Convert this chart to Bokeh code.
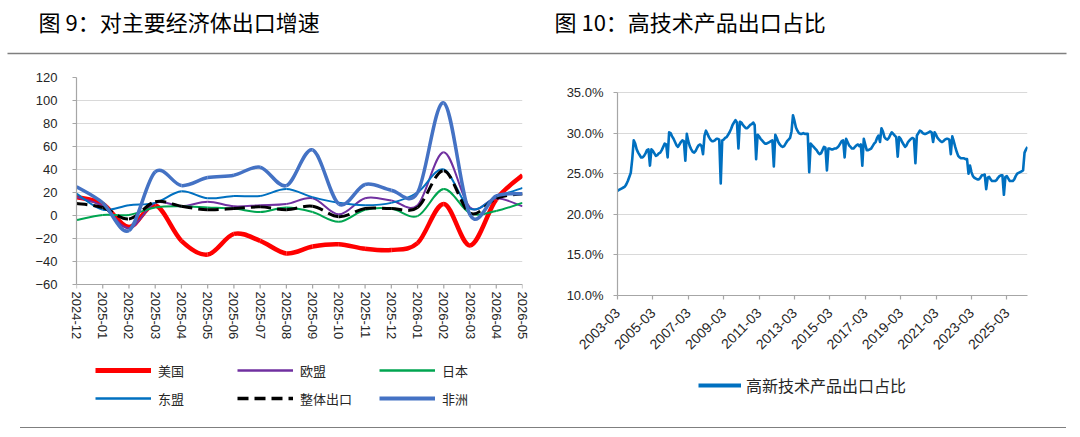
from bokeh.plotting import figure
from bokeh.models import Range1d, FixedTicker, ColumnDataSource, Legend, LegendItem, Div
from bokeh.layouts import column, row
from bokeh.core.properties import value
from bokeh.embed import file_html
from bokeh.resources import INLINE

# ---------------- Figure 9 data: export growth to major economies (%) ----------------
months9 = ["2024-12", "2025-01", "2025-02", "2025-03", "2025-04", "2025-05",
           "2025-06", "2025-07", "2025-08", "2025-09", "2025-10", "2025-11",
           "2025-12", "2026-01", "2026-02", "2026-03", "2026-04", "2026-05"]
usa    = [16, 10, -10, 9, -22, -34, -16, -22, -33, -27, -25, -29, -30, -24, 10, -26, 14, 35]
eu     = [16, 8, -11, 11, 8, 12, 8, 9, 10, 15, 1, 15, 13, 9, 55, 7, 15, 8]
japan  = [-4, 0.5, 0.5, 7, 8, 7, 6, 3, 7, 3, -5.5, 5, 6, -0.5, 23, 2, 4, 11]
asean  = [19, 5, 9, 11, 21, 15, 17, 17, 23, 16, 11, 9, 11, 20, 40, 6, 16, 24]
total  = [10.5, 7, -3, 12, 8, 5, 6, 7.5, 5, 8, -1, 6, 6, 7, 39, 2, 15, 19]
africa = [25, 11, -13, 38, 26, 33, 35, 42, 26, 57, 10, 27, 22, 20, 98, 0.5, 17, 19]
y_ticks9 = [-60, -40, -20, 0, 20, 40, 60, 80, 100, 120]

# ---------------- Figure 10 data: share of high-tech products in exports (%) ----------------
share_2003 = [22.9, 23.0, 23.1, 23.2, 23.3, 23.4, 23.7, 24.1, 24.6, 25.1]  # Mar-Dec
share_2004 = [26.8, 29.1, 28.7, 28.0, 27.6, 27.3, 27.0, 27.0, 27.2, 27.5, 27.9, 28.0]
share_2005 = [26.0, 28.0, 27.8, 27.5, 27.2, 27.3, 27.5, 27.6, 27.9, 28.3, 28.7, 28.6]
share_2006 = [27.0, 30.1, 30.0, 29.6, 29.3, 28.9, 28.5, 28.3, 28.6, 28.9, 29.1, 29.0]
share_2007 = [26.6, 29.9, 29.0, 28.4, 28.0, 27.7, 27.6, 27.8, 28.2, 28.5, 28.6, 28.4]
share_2008 = [27.4, 29.7, 30.3, 29.9, 29.5, 29.2, 29.0, 29.0, 29.1, 29.3, 29.3, 29.2]
share_2009 = [23.8, 29.1, 29.2, 29.4, 29.5, 29.8, 30.1, 30.5, 31.0, 31.3, 31.6, 31.3]
share_2010 = [28.1, 31.4, 31.3, 31.0, 30.8, 30.6, 30.6, 30.8, 31.0, 31.1, 31.3, 31.0]
share_2011 = [26.8, 29.8, 29.6, 29.3, 29.1, 28.9, 28.7, 28.7, 28.8, 28.9, 29.0, 29.1]
share_2012 = [25.9, 29.8, 29.4, 28.9, 28.6, 28.4, 28.3, 28.4, 28.7, 29.0, 29.2, 29.4]
share_2013 = [30.2, 32.2, 31.5, 30.7, 30.3, 30.0, 29.9, 29.9, 30.0, 29.9, 29.9, 29.9]
share_2014 = [25.2, 28.7, 28.5, 28.3, 28.1, 27.9, 27.6, 27.4, 27.5, 27.9, 28.3, 28.2]
share_2015 = [25.4, 28.1, 28.1, 28.0, 28.0, 28.1, 28.1, 28.2, 28.4, 28.7, 29.0, 29.1]
share_2016 = [27.0, 29.3, 28.9, 28.5, 28.3, 28.1, 28.1, 28.3, 28.5, 28.6, 28.4, 28.6]
share_2017 = [26.0, 29.3, 28.6, 27.9, 27.9, 28.0, 28.1, 28.4, 28.7, 28.9, 29.4, 29.7]
share_2018 = [28.9, 30.6, 30.2, 29.5, 29.3, 29.2, 29.4, 29.8, 30.1, 29.9, 29.7, 29.5]
share_2019 = [27.1, 29.5, 29.3, 28.9, 28.6, 28.3, 28.5, 28.9, 29.1, 29.3, 29.4, 29.3]
share_2020 = [26.3, 29.7, 30.0, 30.3, 30.2, 30.0, 29.9, 29.9, 30.0, 30.1, 30.2, 30.1]
share_2021 = [28.9, 30.1, 29.8, 29.4, 29.2, 29.0, 28.9, 29.0, 29.2, 29.3, 29.3, 29.2]
share_2022 = [27.4, 29.6, 29.0, 28.3, 27.7, 27.2, 27.0, 26.9, 26.9, 26.9, 26.8, 26.8]
share_2023 = [25.0, 26.0, 25.2, 24.7, 24.5, 24.4, 24.3, 24.3, 24.5, 24.8, 24.8, 24.9]
share_2024 = [23.1, 24.5, 24.6, 24.3, 24.1, 24.1, 24.1, 24.2, 24.5, 24.7, 24.8, 24.8]
share_2025 = [22.4, 24.6, 24.7, 24.4, 24.1, 24.1, 24.1, 24.3, 24.7, 25.0, 25.1, 25.2]
share_2026 = [25.3, 25.4, 27.6, 28.0, 28.3]  # Jan-May
tick_labels10 = ["2003-03", "2005-03", "2007-03", "2009-03", "2011-03", "2013-03",
                 "2015-03", "2017-03", "2019-03", "2021-03", "2023-03", "2025-03"]
y_ticks10 = [10, 15, 20, 25, 30, 35]
y_labels10 = ["10.0%", "15.0%", "20.0%", "25.0%", "30.0%", "35.0%"]

hitech_share = (share_2003 + share_2004 + share_2005 + share_2006 + share_2007 + share_2008 +
                share_2009 + share_2010 + share_2011 + share_2012 + share_2013 + share_2014 +
                share_2015 + share_2016 + share_2017 + share_2018 + share_2019 + share_2020 +
                share_2021 + share_2022 + share_2023 + share_2024 + share_2025 + share_2026)

# ---------------- styles / layout constants ----------------
CJK = "Noto Sans CJK SC"
LAT = "Liberation Sans"
AXIS_COLOR = "#A6A6A6"
GRID_COLOR = "#D9D9D9"
LABEL_COLOR = "#262626"
RULE_COLOR = "#7F7F7F"
NAN = float("nan")

HEADER_H = 60
CHART_H = 296
LEGEND_H = 60
FRAME_TOP = 17
FRAME_BOTTOM = 61
FRAME_H = CHART_H - FRAME_TOP - FRAME_BOTTOM   # 218 px, shared by both charts
LEFT_AXIS_PX = 207      # pixel span of -60..120 on the left chart
RIGHT_AXIS_PX = 203     # pixel span of 10%..35% on the right chart
TICK_PX = 4


def smooth_source(ys):
    """Cubic Bezier segments through the data points (Excel-style smoothing)."""
    n = len(ys)
    xs = list(range(n))
    d = {k: [] for k in ("x0", "y0", "x1", "y1", "cx0", "cy0", "cx1", "cy1")}
    for i in range(n - 1):
        ip = max(i - 1, 0)
        iq = min(i + 2, n - 1)
        d["x0"].append(xs[i]); d["y0"].append(ys[i])
        d["x1"].append(xs[i + 1]); d["y1"].append(ys[i + 1])
        d["cx0"].append(xs[i] + (xs[i + 1] - xs[ip]) / 6.0)
        d["cy0"].append(ys[i] + (ys[i + 1] - ys[ip]) / 6.0)
        d["cx1"].append(xs[i + 1] - (xs[iq] - xs[i]) / 6.0)
        d["cy1"].append(ys[i + 1] - (ys[iq] - ys[i]) / 6.0)
    return ColumnDataSource(d)


def style_axes(p):
    for ax in (p.xaxis[0], p.yaxis[0]):
        ax.axis_line_color = AXIS_COLOR
        ax.axis_line_width = 1.2
        ax.major_tick_line_color = AXIS_COLOR
        ax.major_tick_line_width = 1.2
        ax.major_tick_in = 0
        ax.major_tick_out = TICK_PX
        ax.minor_tick_line_color = None
        ax.minor_tick_in = 0
        ax.minor_tick_out = 0
        ax.major_label_text_font = LAT
        ax.major_label_text_font_size = "13px"
        ax.major_label_text_color = LABEL_COLOR
    p.xgrid.visible = False
    p.ygrid.grid_line_color = GRID_COLOR
    p.ygrid.grid_line_width = 1.2
    p.outline_line_color = None
    p.background_fill_color = "white"
    p.border_fill_color = "white"


def blank_figure(w, h):
    f = figure(width=w, height=h, x_range=Range1d(0, w), y_range=Range1d(h, 0),
               output_backend="svg", toolbar_location=None, min_border=0, title=None,
               x_axis_location=None, y_axis_location=None, outline_line_color=None)
    f.grid.visible = False
    return f


# ---------------- header ----------------
header = blank_figure(1080, HEADER_H)
header.text(x=[38, 554], y=[20, 20],
            text=["图 9：对主要经济体出口增速", "图 10：高技术产品出口占比"],
            text_font=value(CJK), text_font_size="22px", text_color="#000000",
            text_baseline="middle", text_align="left")
header.segment(x0=[7], y0=[53], x1=[1066], y1=[53], line_color=RULE_COLOR, line_width=1.5)

# ---------------- Figure 9 ----------------
units_per_px9 = (y_ticks9[-1] - y_ticks9[0]) / LEFT_AXIS_PX
extra9 = (FRAME_H - LEFT_AXIS_PX) * units_per_px9
p1 = figure(width=540, height=CHART_H, x_range=Range1d(0, len(months9) - 1),
            y_range=Range1d(y_ticks9[0] - extra9, y_ticks9[-1]),
            output_backend="svg", toolbar_location=None, title=None,
            min_border_left=76, min_border_right=18,
            min_border_top=FRAME_TOP, min_border_bottom=FRAME_BOTTOM)
style_axes(p1)
p1.xaxis.ticker = FixedTicker(ticks=list(range(len(months9))))
p1.xaxis.major_label_overrides = {i: m for i, m in enumerate(months9)}
p1.xaxis.major_label_orientation = "vertical"
p1.xaxis.axis_line_color = None
p1.xaxis.major_tick_out = 0
p1.xaxis.major_label_standoff = -4
p1.yaxis.ticker = FixedTicker(ticks=y_ticks9)
p1.yaxis.bounds = (y_ticks9[0], y_ticks9[-1])
p1.yaxis.major_label_standoff = 15
p1.ygrid.ticker = FixedTicker(ticks=y_ticks9)
# category axis line at the bottom of the value scale, with its small tick marks
p1.hspan(y=[y_ticks9[0]], line_color=AXIS_COLOR, line_width=1.2)
cat_x = list(range(len(months9)))
p1.segment(x0=cat_x, y0=[y_ticks9[0]] * len(cat_x), x1=cat_x,
           y1=[y_ticks9[0] - TICK_PX * units_per_px9] * len(cat_x),
           line_color=AXIS_COLOR, line_width=1.2)

series9 = [
    ("美国", usa, "#FF0000", 4.5, "solid"),
    ("欧盟", eu, "#7030A0", 2.0, "solid"),
    ("日本", japan, "#00A550", 2.0, "solid"),
    ("东盟", asean, "#0070C0", 2.0, "solid"),
    ("整体出口", total, "#000000", 3.0, "11 6"),
    ("非洲", africa, "#4472C4", 3.5, "solid"),
]
for name, ys, color, width, dash in series9:
    p1.bezier(x0="x0", y0="y0", x1="x1", y1="y1", cx0="cx0", cy0="cy0", cx1="cx1", cy1="cy1",
              source=smooth_source(ys), line_color=color, line_width=width, line_dash=dash)

# legend of figure 9 (own strip under the chart); proxy renderers hold no visible data
leg_fig9 = blank_figure(540, LEGEND_H)
items9 = []
for name, ys, color, width, dash in series9:
    r = leg_fig9.line(x=[NAN], y=[NAN], line_color=color, line_width=width + 0.5, line_dash=dash)
    items9.append(LegendItem(label=name, renderers=[r]))
leg9 = Legend(items=items9, location=(95, 8), orientation="horizontal", ncols=3,
              padding=2, margin=0, spacing=8, glyph_width=56, glyph_height=20,
              label_height=20, label_width=71, label_standoff=7,
              label_text_font=CJK, label_text_font_size="13px", label_text_color=LABEL_COLOR,
              border_line_color=None, background_fill_alpha=0)
leg_fig9.add_layout(leg9)

# ---------------- Figure 10 ----------------
n10 = len(hitech_share)
extra10 = (FRAME_H - RIGHT_AXIS_PX) * (y_ticks10[-1] - y_ticks10[0]) / RIGHT_AXIS_PX
p2 = figure(width=540, height=CHART_H, x_range=Range1d(0, n10 - 1),
            y_range=Range1d(y_ticks10[0], y_ticks10[-1] + extra10),
            output_backend="svg", toolbar_location=None, title=None,
            min_border_left=77, min_border_right=53,
            min_border_top=FRAME_TOP, min_border_bottom=FRAME_BOTTOM)
style_axes(p2)
x_ticks10 = [24 * i for i in range(len(tick_labels10))]
p2.xaxis.ticker = FixedTicker(ticks=x_ticks10)
p2.xaxis.major_label_overrides = {t: s for t, s in zip(x_ticks10, tick_labels10)}
p2.xaxis.major_label_orientation = 0.785398
p2.xaxis.major_label_text_font_size = "14px"
p2.xaxis.major_label_standoff = 11
p2.yaxis.ticker = FixedTicker(ticks=y_ticks10)
p2.yaxis.bounds = (y_ticks10[0], y_ticks10[-1])
p2.yaxis.major_label_overrides = {t: s for t, s in zip(y_ticks10, y_labels10)}
p2.yaxis.major_label_standoff = 10
p2.ygrid.ticker = FixedTicker(ticks=y_ticks10)

line_color10 = "#0070C0"
p2.line(x=list(range(n10)), y=hitech_share, line_color=line_color10, line_width=2.6,
        line_join="round")

leg_fig10 = blank_figure(540, LEGEND_H)
r10 = leg_fig10.line(x=[NAN], y=[NAN], line_color=line_color10, line_width=4)
leg10 = Legend(items=[LegendItem(label="高新技术产品出口占比", renderers=[r10])],
               location=(158, 19), orientation="horizontal",
               padding=2, margin=0, spacing=8, glyph_width=43, glyph_height=20,
               label_height=20, label_standoff=5,
               label_text_font=CJK, label_text_font_size="16px", label_text_color=LABEL_COLOR,
               border_line_color=None, background_fill_alpha=0)
leg_fig10.add_layout(leg10)

# ---------------- footer rule ----------------
footer = Div(text="", width=1046, height=4, margin=(11, 0, 0, 20),
             styles={"border-top": "1.5px solid " + RULE_COLOR})

layout = column(header, row(p1, p2), row(leg_fig9, leg_fig10), footer)
open("out.html", "w").write(file_html(layout, INLINE))
